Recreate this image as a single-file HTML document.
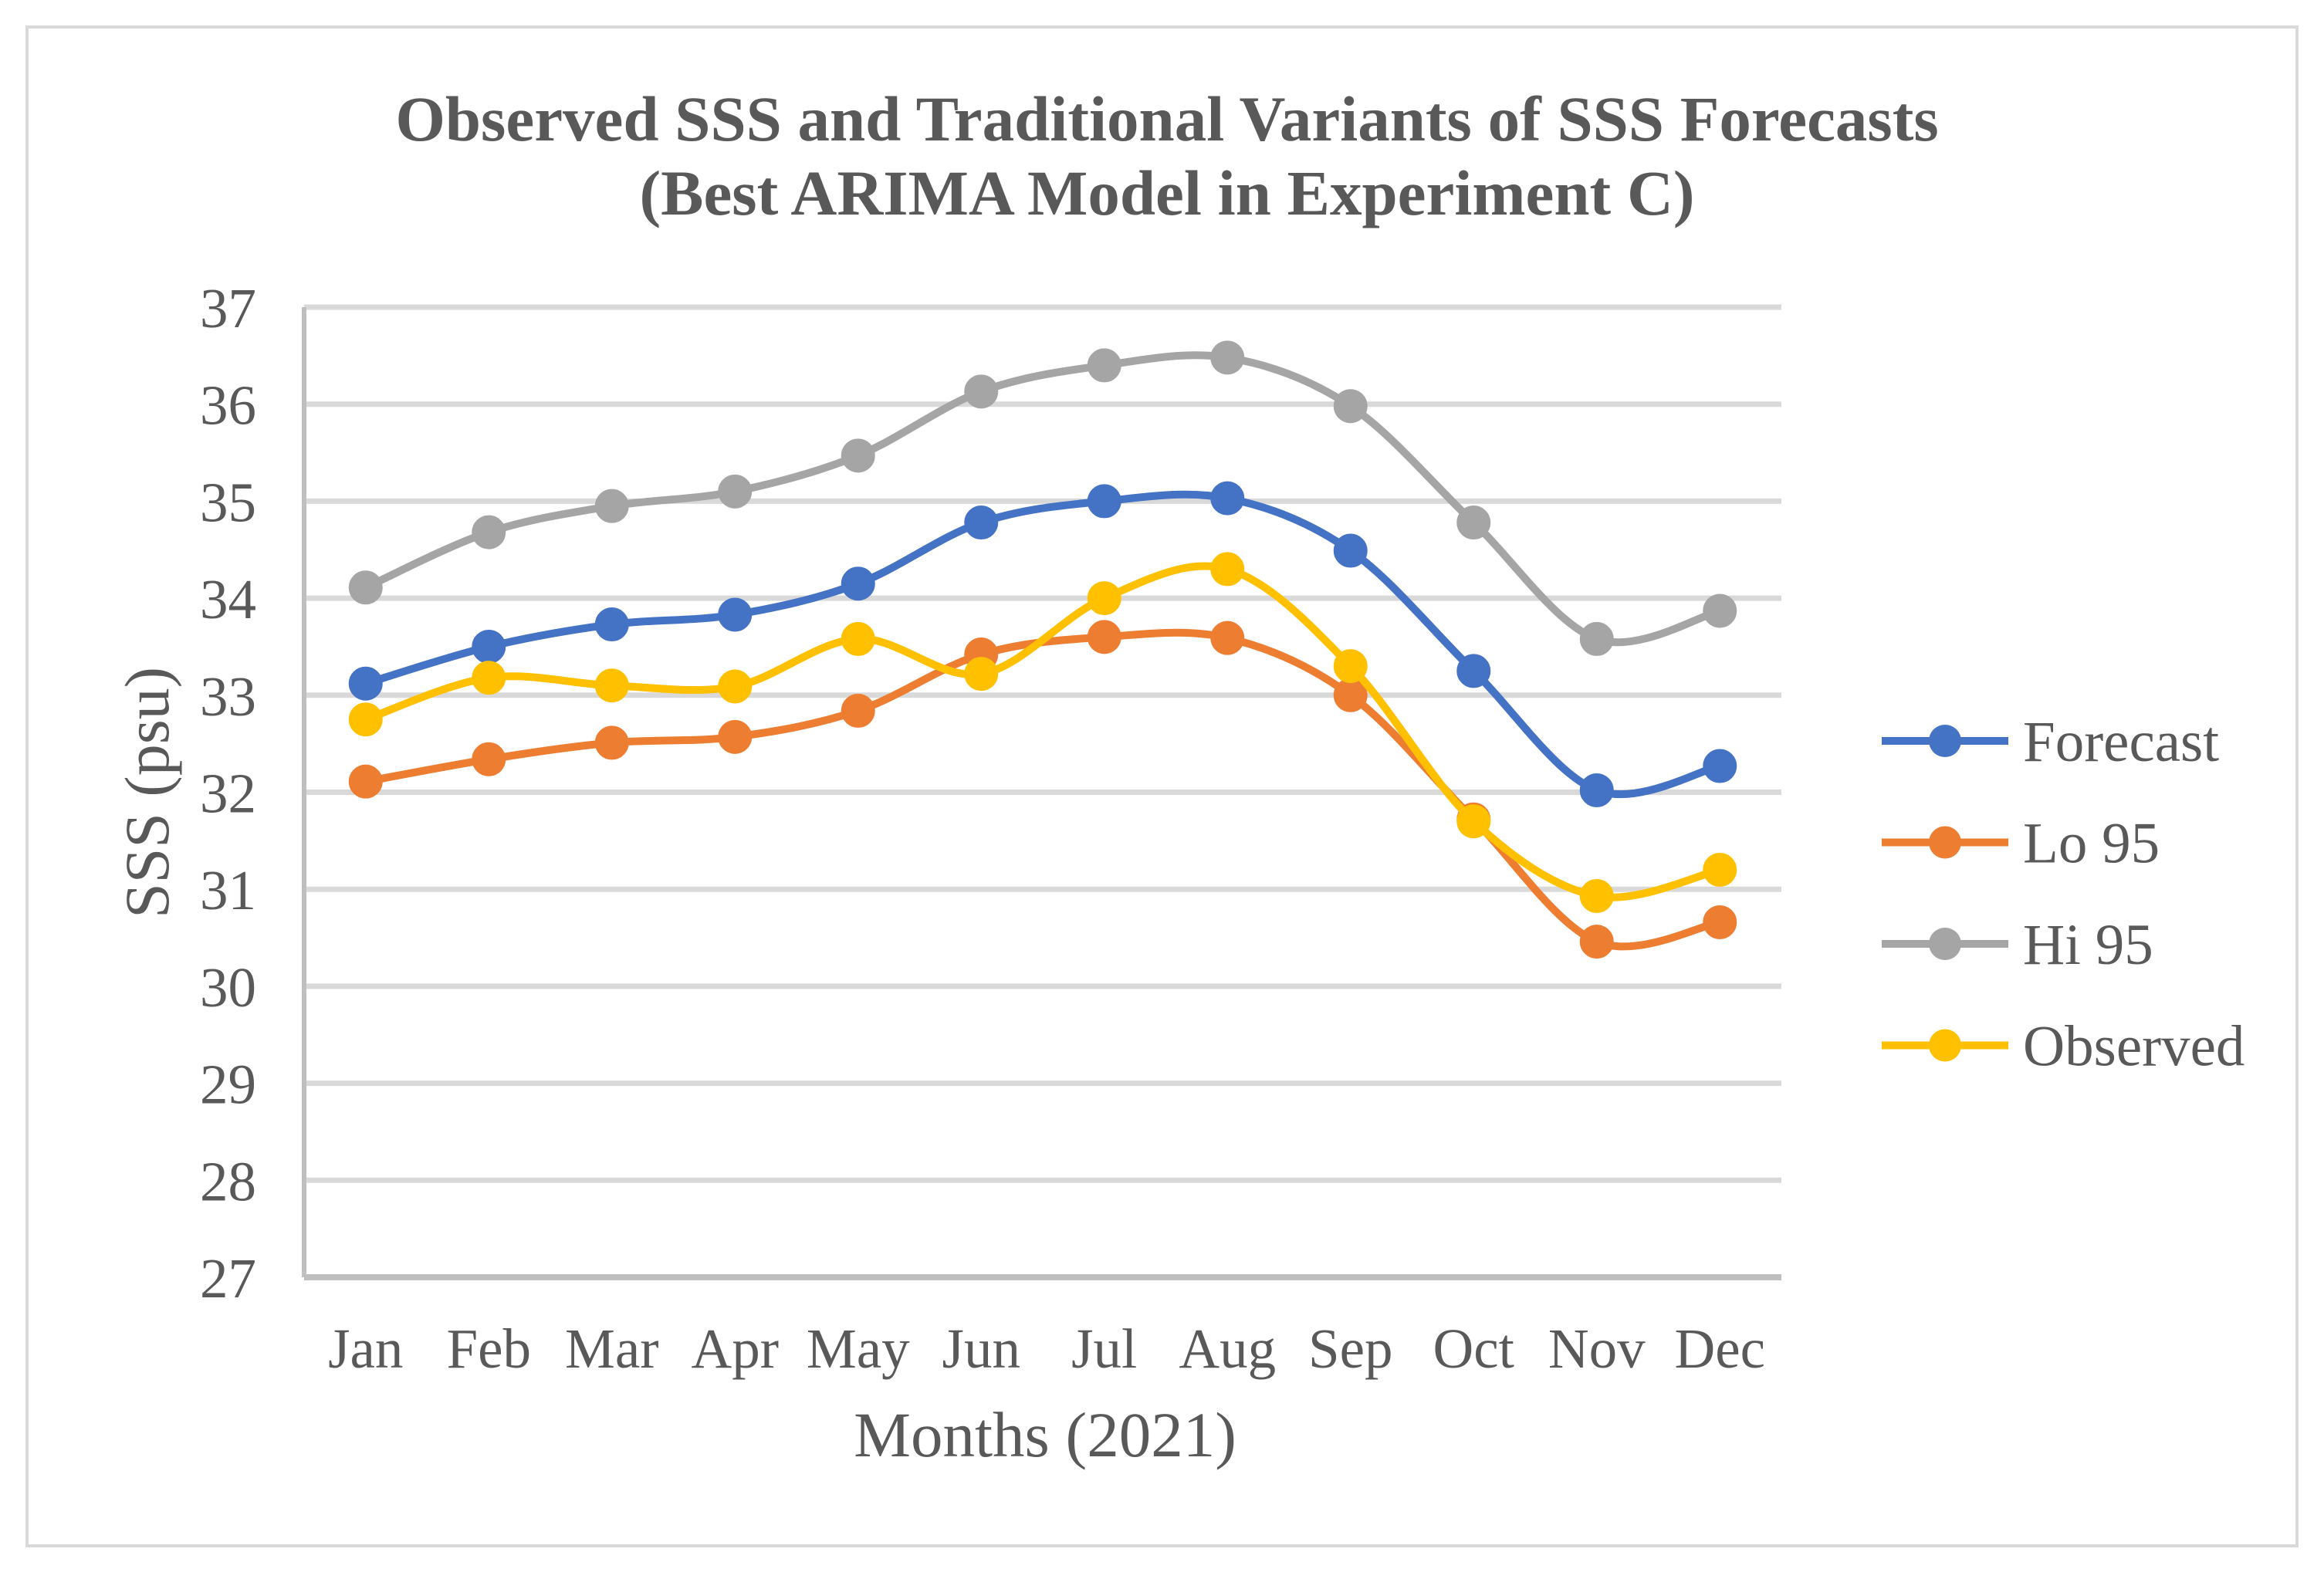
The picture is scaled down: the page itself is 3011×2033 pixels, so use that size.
<!DOCTYPE html>
<html><head><meta charset="utf-8"><style>
html,body{margin:0;padding:0;background:#fff}
svg{display:block;font-family:"Liberation Serif",serif}
</style></head><body>
<svg id="chart" width="3011" height="2033" viewBox="0 0 3011 2033">
<rect x="35" y="35" width="2941" height="1968" fill="#fff" stroke="#d9d9d9" stroke-width="4"/>
<text x="1512" y="182" text-anchor="middle" font-size="83" font-weight="bold" fill="#595959">Observed SSS and Traditional Variants of SSS Forecasts</text>
<text x="1512" y="278" text-anchor="middle" font-size="83" font-weight="bold" fill="#595959">(Best ARIMA Model in Experiment C)</text>
<g id="grid"></g>
<g id="series"></g>
<text transform="translate(218,1027) rotate(-90)" text-anchor="middle" font-size="82" fill="#595959">SSS (psu)</text>
<text x="1354" y="1887" text-anchor="middle" font-size="83" fill="#595959">Months (2021)</text>
<g id="legend"></g>
</svg>
<script>
const months=["Jan","Feb","Mar","Apr","May","Jun","Jul","Aug","Sep","Oct","Nov","Dec"];
const yTicks=[27,28,29,30,31,32,33,34,35,36,37];
const forecast=[33.12,33.5,33.73,33.83,34.15,34.78,35.0,35.03,34.49,33.25,32.02,32.27];
const lo95=[32.11,32.34,32.51,32.57,32.84,33.42,33.6,33.59,33.0,31.72,30.46,30.66];
const hi95=[34.11,34.68,34.95,35.1,35.47,36.13,36.4,36.48,35.98,34.78,33.58,33.87];
const observed=[32.75,33.18,33.1,33.09,33.58,33.22,34.0,34.3,33.3,31.7,30.93,31.2];
const seriesNames=["Forecast","Lo 95","Hi 95","Observed"];
const NS="http://www.w3.org/2000/svg";
const L=394,R=2308,T=398,B=1655,yMin=27,yMax=37;
const step=(R-L)/months.length;
const xs=i=>L+step*(i+0.5);
const ys=v=>B-(v-yMin)/(yMax-yMin)*(B-T);
function mk(tag,attrs,parent){const e=document.createElementNS(NS,tag);for(const k in attrs)e.setAttribute(k,attrs[k]);parent.appendChild(e);return e;}
const grid=document.getElementById('grid');
yTicks.forEach(v=>{
  if(v!==yMin){const g=mk('line',{x1:L,x2:R,y1:ys(v),y2:ys(v),stroke:'#d9d9d9','stroke-width':7},grid);
  
  }
  const t=mk('text',{x:L-62,y:ys(v)+26,'text-anchor':'end','font-size':73,fill:'#595959'},grid);
  t.textContent=v;
  
  
});
const ax=mk('line',{x1:L,x2:R,y1:B,y2:B,stroke:'#bfbfbf','stroke-width':8},grid);


const ay=mk('line',{x1:L,x2:L,y1:T,y2:B,stroke:'#bfbfbf','stroke-width':6},grid);


months.forEach((m,i)=>{
  const t=mk('text',{x:xs(i),y:1772,'text-anchor':'middle','font-size':73,fill:'#595959'},grid);
  t.textContent=m;
  
  
});
function smooth(vals){
  const p=vals.map((v,i)=>[xs(i),ys(v)]);
  let d='M'+p[0][0]+','+p[0][1];
  for(let i=0;i<p.length-1;i++){
    const p0=p[Math.max(i-1,0)],p1=p[i],p2=p[i+1],p3=p[Math.min(i+2,p.length-1)];
    const c1=[p1[0]+(p2[0]-p0[0])/6,p1[1]+(p2[1]-p0[1])/6];
    const c2=[p2[0]-(p3[0]-p1[0])/6,p2[1]-(p3[1]-p1[1])/6];
    d+=' C'+c1+' '+c2+' '+p2;
  }
  return d;
}
const colors=["#4472c4","#ed7d31","#a5a5a5","#ffc000"];
const data=[forecast,lo95,hi95,observed];
const sg=document.getElementById('series');
const order=[2,0,1,3];
order.forEach(k=>{
  const g=mk('g',{},sg);
  
  
  const p=mk('path',{d:smooth(data[k]),fill:'none',stroke:colors[k],'stroke-width':10,'stroke-linecap':'round'},g);
  
  
  data[k].forEach((v,i)=>{
    const c=mk('circle',{cx:xs(i),cy:ys(v),r:21,fill:colors[k],stroke:colors[k],'stroke-width':2},g);
    
    
  });
});
const lg=document.getElementById('legend');
seriesNames.forEach((n,k)=>{
  const y=960+k*131.5;
  const g=mk('g',{},lg);
  
  
  mk('line',{x1:2438,x2:2602,y1:y,y2:y,stroke:colors[k],'stroke-width':10},g);
  mk('circle',{cx:2520,cy:y,r:21,fill:colors[k]},g);
  const t=mk('text',{x:2621,y:y+26,'font-size':75,fill:'#595959'},g);
  t.textContent=n;
});
</script>
</body></html>
